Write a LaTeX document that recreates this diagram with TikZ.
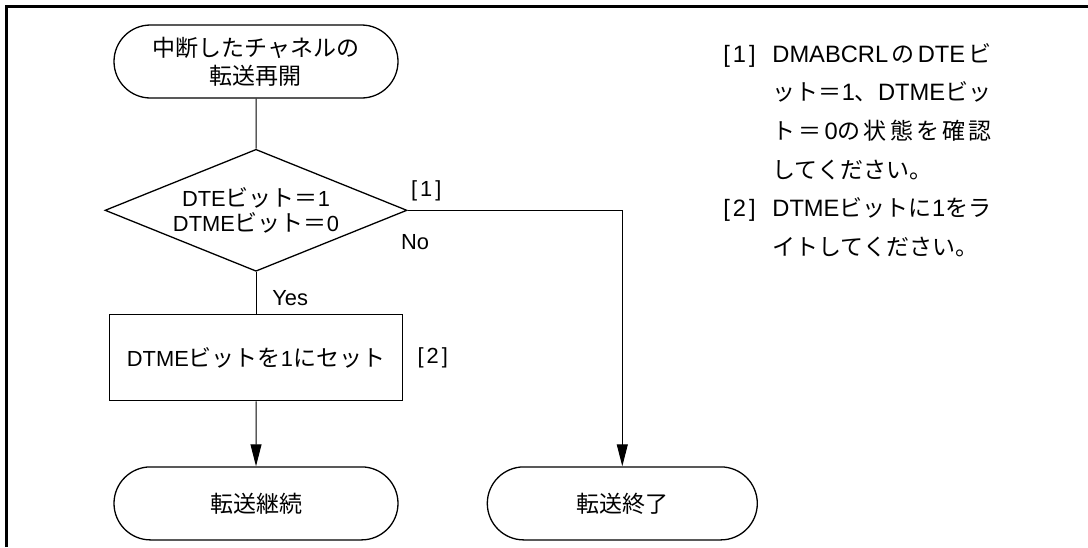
\documentclass[tikz,border=0pt]{standalone}
\usepackage{fontspec}
\setmainfont{Liberation Sans}[Scale=0.95]
\newfontfamily\jp{Noto Sans CJK JP}
\newfontfamily\notelat{Liberation Sans}[Scale=1.03]
\usetikzlibrary{arrows.meta,positioning,shapes}
\newcommand\bnum[1]{[\kern1.5pt#1\kern1.5pt]}
\newcommand\fullline[1]{\makebox[109.5pt][s]{#1}}

\begin{document}
\begin{tikzpicture}[
  node distance=25pt,
  every node/.style={font=\fontsize{11.5}{14}\selectfont, align=center},
  term/.style={draw, line width=0.65pt, rounded rectangle, minimum width=146pt, minimum height=36.5pt, inner sep=2pt, font=\fontsize{11.5}{14}\selectfont\jp},
  cond/.style={draw, line width=0.65pt, diamond, aspect=2.5, minimum width=151pt, minimum height=61pt, inner sep=0pt, font=\fontsize{11.5}{12.5}\selectfont},
  proc/.style={draw, line width=0.65pt, minimum width=146.5pt, minimum height=43pt},
  lbl/.style={inner sep=0pt},
  flow/.style={line width=0.5pt},
  >={Triangle[length=11pt,width=5.5pt]}
]
\useasboundingbox (0,0) rectangle (544pt,-273.5pt);
\draw[line width=1.4pt] (3.25pt,-273.5pt) |- (544pt,-3.25pt);

\node[term] (start) at (128pt,-30.75pt) {中断したチャネルの\\転送再開};
\node[cond, below=25pt of start] (chk) {DTE{\jp ビット＝}1\\DTME{\jp ビット＝}0};
\node[proc, below=21pt of chk] (set) {DTME{\jp ビットを}1{\jp にセット}};
\node[term, below=32.5pt of set] (cont) {転送継続};
\node[term, minimum width=139pt, right=44pt of cont] (stop) {転送終了};

\draw[flow] (start) -- (chk);
\draw[flow] (chk) -- (set);
\draw[flow, ->] (set) -- (cont);
\draw[flow, ->] (chk.east) -| (stop.north);

\node[lbl, anchor=south west] (t1) at ([shift={(1.5pt,4.5pt)}]chk.east) {\bnum{1}};
\node[lbl, anchor=north west] (no) at ([shift={(-3.5pt,-12pt)}]chk.east) {No};
\node[lbl, anchor=north west] (yes) at ([shift={(8pt,-9pt)}]chk.south) {Yes};
\node[lbl, right=7pt of set] (t2) {\bnum{2}};

% notes on the right
\node[lbl, anchor=north west, align=left, font=\fontsize{11.5}{19.3}\selectfont\notelat] (notes) at (361.5pt,-21.5pt) {%
  \makebox[24.5pt][l]{\bnum{1}}\fullline{DMABCRL\hfil{\jp の}\hfil DTE\hfil{\jp ビ}}\\
  \hspace*{24.5pt}\fullline{{\jp ッ}\hfil{\jp ト}\hfil{\jp ＝}\hfil 1{\jp 、}\hfil DTME\hfil{\jp ビ}\hfil{\jp ッ}}\\
  \hspace*{24.5pt}\fullline{{\jp ト}\hfil{\jp ＝}\hfil 0{\jp の}\hfil{\jp 状}\hfil{\jp 態}\hfil{\jp を}\hfil{\jp 確}\hfil{\jp 認}}\\
  \hspace*{24.5pt}{\jp してください。}\\
  \makebox[24.5pt][l]{\bnum{2}}\fullline{DTME\hfil{\jp ビ}\hfil{\jp ッ}\hfil{\jp ト}\hfil{\jp に}\hfil 1{\jp を}\hfil{\jp ラ}}\\
  \hspace*{24.5pt}{\jp イトしてください。}};
\end{tikzpicture}
\end{document}
